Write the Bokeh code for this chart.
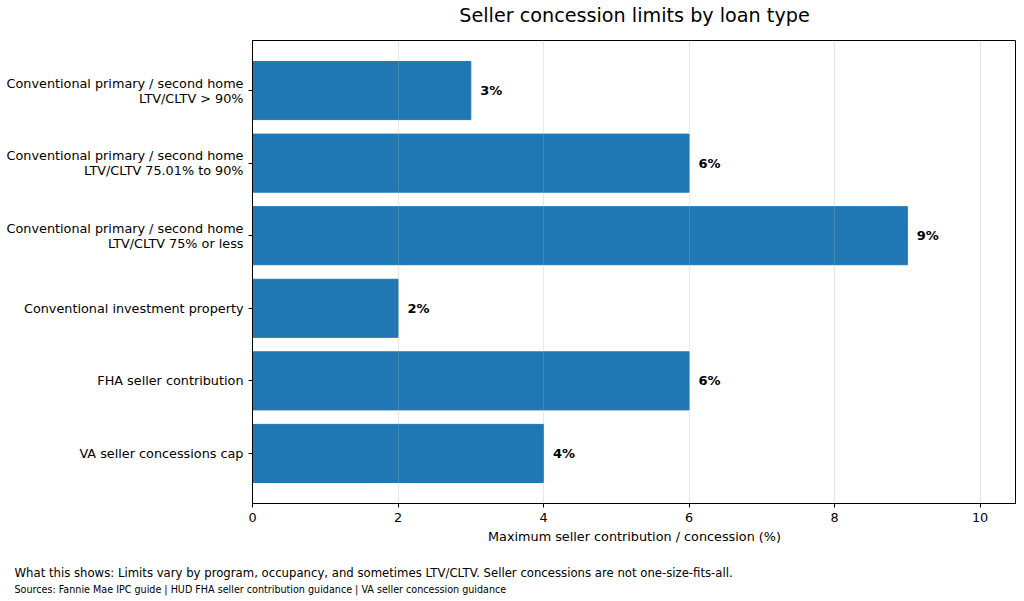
from bokeh.plotting import figure
from bokeh.models import Range1d, FixedTicker, Title, ColumnDataSource
from bokeh.core.properties import value
from bokeh.embed import file_html
from bokeh.resources import INLINE

categories = [
    "Conventional primary / second home\nLTV/CLTV > 90%",
    "Conventional primary / second home\nLTV/CLTV 75.01% to 90%",
    "Conventional primary / second home\nLTV/CLTV 75% or less",
    "Conventional investment property",
    "FHA seller contribution",
    "VA seller concessions cap",
]
limits = [3, 6, 9, 2, 6, 4]
bar_labels = ["3%", "6%", "9%", "2%", "6%", "4%"]
x_ticks = [0, 2, 4, 6, 8, 10]
chart_title = "Seller concession limits by loan type"
footnote = "What this shows: Limits vary by program, occupancy, and sometimes LTV/CLTV. Seller concessions are not one-size-fits-all."
sources_note = "Sources: Fannie Mae IPC guide | HUD FHA seller contribution guidance | VA seller concession guidance"

FONT = "DejaVu Sans"
BLUE = "#1f77b4"

pos = list(range(len(categories)))
src = ColumnDataSource(dict(y=pos, right=limits, lab=bar_labels,
                            lx=[v + 0.13 for v in limits]))

p = figure(frame_width=764, frame_height=463, output_backend="svg", toolbar_location=None,
           x_range=Range1d(0, 10.5), y_range=Range1d(5.69, -0.69),
           min_border_left=252, min_border_right=0, min_border_top=40,
           min_border_bottom=0)

p.hbar(y="y", left=0, right="right", height=0.8, source=src,
       fill_color=BLUE, line_color=BLUE)
p.text(x="lx", y="y", text="lab", source=src, text_font=value(FONT),
       text_font_size="13px", text_font_style="bold", text_align="left",
       text_baseline="middle", text_color="black")

p.outline_line_color = "black"
p.outline_line_width = 1
p.outline_line_alpha = 1

p.xaxis.ticker = FixedTicker(ticks=x_ticks)
p.xaxis.axis_label = "Maximum seller contribution / concession (%)"
p.yaxis.ticker = FixedTicker(ticks=pos)
p.yaxis.major_label_overrides = {i: c for i, c in enumerate(categories)}
for ax in (p.xaxis, p.yaxis):
    ax.major_label_text_font = FONT
    ax.major_label_text_font_size = "12.8px"
    ax.major_label_text_color = "black"
    ax.axis_label_text_font = FONT
    ax.axis_label_text_font_size = "12.8px"
    ax.axis_label_text_font_style = "normal"
    ax.axis_label_text_color = "black"
    ax.minor_tick_line_color = None
    ax.major_tick_out = 4
    ax.major_tick_in = 0
    ax.major_tick_line_color = "black"
    ax.axis_line_color = "black"
p.xaxis.axis_label_standoff = 4
p.yaxis.major_label_text_align = "right"
p.yaxis.major_label_text_line_height = 1.0

p.ygrid.grid_line_color = None
p.xgrid.grid_line_color = "#b0b0b0"
p.xgrid.grid_line_alpha = 0.3
p.xgrid.level = "overlay"

# above: spacer (next to frame), then the chart title
p.add_layout(Title(text=" ", text_font_size="1px", standoff=11), "above")
p.add_layout(Title(text=chart_title, align="center", text_font=FONT,
                   text_font_size="19.2px", text_color="black",
                   text_font_style="normal", standoff=0), "above")

# below: spacer after the x axis, then the two footer lines
p.add_layout(Title(text=" ", text_font_size="1px", standoff=14), "below")
p.add_layout(Title(text=footnote, align="left", offset=-238, text_font=FONT,
                   text_font_size="11.7px", text_color="black",
                   text_font_style="normal", standoff=0), "below")
p.add_layout(Title(text=sources_note, align="left", offset=-238, text_font=FONT,
                   text_font_size="9.6px", text_color="black",
                   text_font_style="normal", standoff=4), "below")

open("out.html", "w").write(file_html(p, INLINE))
